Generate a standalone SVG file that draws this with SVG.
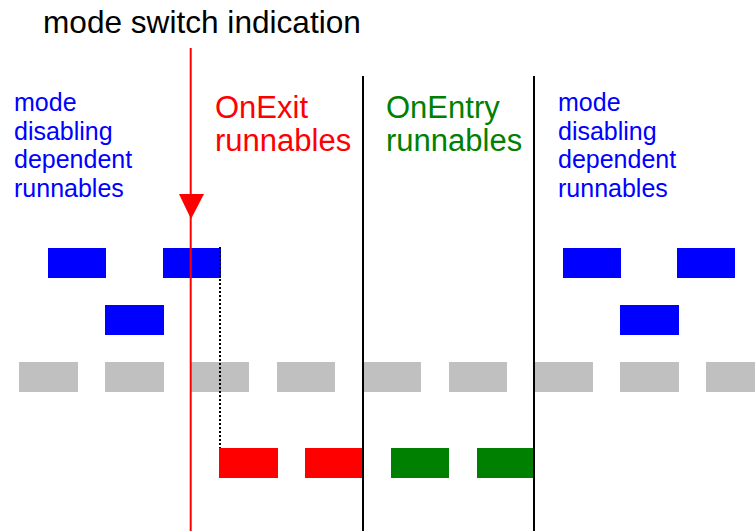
<svg xmlns="http://www.w3.org/2000/svg" width="755" height="531" viewBox="0 0 755 531">
<style>
text{font-family:"Liberation Sans",Arial,sans-serif}
.t{font-size:31px}
.h{font-size:31.6px}
.b{font-size:25px;fill:#0000ff}
.blue{fill:#0000ff}
.grey{fill:#c0c0c0}
.red{fill:#ff0000}
.green{fill:#008000}
.sep{stroke:#000;stroke-width:2}
</style>
<rect width="755" height="531" fill="#fff"/>
<g id="grey-row">
<rect class="grey" x="19" y="362" width="59" height="30"/>
<rect class="grey" x="105" y="362" width="59" height="30"/>
<rect class="grey" x="191" y="362" width="58" height="30"/>
<rect class="grey" x="277" y="362" width="58" height="30"/>
<rect class="grey" x="363" y="362" width="58" height="30"/>
<rect class="grey" x="449" y="362" width="58" height="30"/>
<rect class="grey" x="534" y="362" width="59" height="30"/>
<rect class="grey" x="620" y="362" width="59" height="30"/>
<rect class="grey" x="706" y="362" width="49" height="30"/>
</g>
<g id="blue-left">
<rect class="blue" x="48" y="248" width="58" height="30"/>
<rect class="blue" x="163" y="248" width="58" height="30"/>
<rect class="blue" x="105" y="305" width="59" height="30"/>
</g>
<g id="blue-right">
<rect class="blue" x="563" y="248" width="58" height="30"/>
<rect class="blue" x="677" y="248" width="58" height="30"/>
<rect class="blue" x="620" y="305" width="59" height="30"/>
</g>
<g id="onexit-row">
<rect class="red" x="219" y="448" width="59" height="30"/>
<rect class="red" x="305" y="448" width="59" height="30"/>
</g>
<g id="onentry-row">
<rect class="green" x="391" y="448" width="58" height="30"/>
<rect class="green" x="477" y="448" width="58" height="30"/>
</g>
<g id="connectors">
<line class="sep" x1="363" y1="76" x2="363" y2="531"/>
<line class="sep" x1="534" y1="76" x2="534" y2="531"/>
<line x1="220" y1="247" x2="220" y2="448" stroke="#000" stroke-width="2" stroke-dasharray="2,2"/>
<line x1="190.7" y1="48" x2="190.7" y2="531" stroke="#ff0000" stroke-width="2"/>
<polygon points="179,194 204,194 191,219" fill="#ff0000"/>
</g>
<g id="label-title">
<text class="h" x="43" y="32.5" fill="#000">mode switch indication</text>
</g>
<g id="label-left">
<text class="b" x="14" y="111">mode</text>
<text class="b" x="14" y="140">disabling</text>
<text class="b" x="14" y="168">dependent</text>
<text class="b" x="14" y="197">runnables</text>
</g>
<g id="label-onexit">
<text class="t" x="215" y="118" fill="#ff0000">OnExit</text>
<text class="t" x="215" y="151" fill="#ff0000">runnables</text>
</g>
<g id="label-onentry">
<text class="t" x="386" y="118" fill="#008000">OnEntry</text>
<text class="t" x="386" y="151" fill="#008000">runnables</text>
</g>
<g id="label-right">
<text class="b" x="558" y="111">mode</text>
<text class="b" x="558" y="140">disabling</text>
<text class="b" x="558" y="168">dependent</text>
<text class="b" x="558" y="197">runnables</text>
</g>
</svg>
